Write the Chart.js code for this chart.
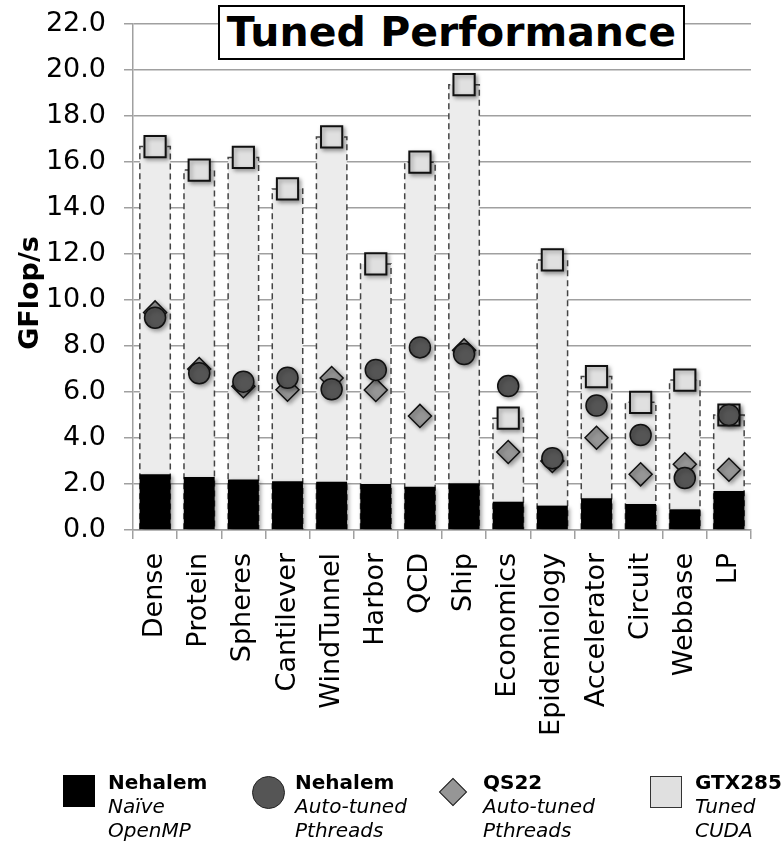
<!DOCTYPE html>
<html>
<head>
<meta charset="utf-8">
<script src="https://cdn.jsdelivr.net/npm/chart.js@4"></script>
<style>
  body { margin: 0; background: #fff; }
  #wrap { position: relative; width: 781px; height: 841px; font-family: 'DejaVu Sans', sans-serif; }
  #wrap canvas { position: absolute; left: 0; top: 0; }
  .title-box {
    position: absolute; left: 218px; top: 5px; width: 467px; height: 55px;
    box-sizing: border-box; border: 2px solid #000; background: #fff;
    font-weight: bold; font-size: 41px; line-height: 51px; text-align: center; color: #000;
  }
  .y-title {
    position: absolute; left: 29px; top: 293px; width: 200px; margin-left: -100px; margin-top: -16px;
    height: 32px; line-height: 32px; text-align: center; transform: rotate(-90deg);
    font-weight: bold; font-size: 27px; color: #000;
  }
  .leg-text { position: absolute; font-size: 20px; line-height: 24px; color: #000; }
  .leg-text b { font-weight: bold; }
  .leg-text i { font-style: italic; }
  .mk { position: absolute; box-sizing: border-box; }
</style>
</head>
<body>
<div id="wrap">
  <canvas id="myChart" width="781" height="841"></canvas>
  <div class="title-box">Tuned Performance</div>
  <div class="y-title">GFlop/s</div>

  <div class="mk" style="left:63px;top:775px;width:32px;height:32px;background:#000;"></div>
  <div class="leg-text" style="left:108px;top:770px;"><b>Nehalem</b><br><i>Naïve</i><br><i>OpenMP</i></div>

  <div class="mk" style="left:252px;top:776px;width:33px;height:33px;border-radius:50%;background:#555;border:1.5px solid #222;"></div>
  <div class="leg-text" style="left:295px;top:770px;"><b>Nehalem</b><br><i>Auto-tuned</i><br><i>Pthreads</i></div>

  <div class="mk" style="left:443px;top:782px;width:20px;height:20px;background:#969696;border:1.5px solid #222;transform:rotate(45deg);"></div>
  <div class="leg-text" style="left:483px;top:770px;"><b>QS22</b><br><i>Auto-tuned</i><br><i>Pthreads</i></div>

  <div class="mk" style="left:650px;top:776px;width:32px;height:32px;background:#e0e0e0;border:1.5px solid #333;"></div>
  <div class="leg-text" style="left:695px;top:770px;"><b>GTX285</b><br><i>Tuned</i><br><i>CUDA</i></div>
</div>

<script>
// matrices along the x axis
const categories = ['Dense', 'Protein', 'Spheres', 'Cantilever', 'WindTunnel', 'Harbor', 'QCD',
    'Ship', 'Economics', 'Epidemiology', 'Accelerator', 'Circuit', 'Webbase', 'LP'];

// GFlop/s
const nehalem_naive = [2.42, 2.30, 2.20, 2.12, 2.10, 2.00, 1.88, 2.03, 1.23, 1.06, 1.38, 1.13, 0.90, 1.70];
const nehalem_tuned = [9.23, 6.81, 6.45, 6.62, 6.12, 6.96, 7.94, 7.65, 6.26, 3.12, 5.41, 4.13, 2.26, 5.00];
const qs22_tuned = [9.46, 7.00, 6.25, 6.10, 6.61, 6.09, 4.96, 7.81, 3.39, 3.00, 4.01, 2.42, 2.86, 2.62];
const gtx285_cuda = [16.67, 15.65, 16.20, 14.83, 17.09, 11.57, 15.99, 19.36, 4.86, 11.74, 6.67, 5.55, 6.52, 5.00];

const yTicks = [0, 2, 4, 6, 8, 10, 12, 14, 16, 18, 20, 22];

const gridGray = '#a0a0a0';
const tickFont = { family: 'DejaVu Sans', size: 27 };

// dashed outline around the light GTX285 bars
const dashedOutline = {
    id: 'dashedOutline',
    afterDatasetDraw(chart, args) {
        if (args.index !== 0) return;
        const ctx = chart.ctx;
        ctx.save();
        ctx.strokeStyle = '#444';
        ctx.lineWidth = 1.5;
        ctx.setLineDash([6, 4]);
        args.meta.data.forEach(bar => {
            const p = bar.getProps(['x', 'y', 'base', 'width'], true);
            const l = p.x - p.width / 2, r = p.x + p.width / 2;
            ctx.beginPath();
            ctx.moveTo(l, p.base);
            ctx.lineTo(l, p.y);
            ctx.lineTo(r, p.y);
            ctx.lineTo(r, p.base);
            ctx.stroke();
        });
        ctx.restore();
    }
};

// soft drop shadow on the black bars and the markers
const softShadow = {
    id: 'softShadow',
    beforeDatasetDraw(chart, args) {
        const ctx = chart.ctx;
        ctx.save();
        if (args.index > 0) {
            ctx.shadowColor = 'rgba(0,0,0,0.35)';
            ctx.shadowBlur = 4;
            ctx.shadowOffsetX = 2;
            ctx.shadowOffsetY = 2;
        }
    },
    afterDatasetDraw(chart) {
        chart.ctx.restore();
    }
};

const ctx = document.getElementById('myChart').getContext('2d');

new Chart(ctx, {
    type: 'bar',
    data: {
        labels: categories,
        datasets: [
            {
                label: 'GTX285 range',
                data: gtx285_cuda,
                backgroundColor: '#ececec',
                borderWidth: 0,
                grouped: false,
                barPercentage: 0.69,
                categoryPercentage: 1,
                order: 4
            },
            {
                label: 'Nehalem Naive OpenMP',
                data: nehalem_naive,
                backgroundColor: '#000',
                borderWidth: 0,
                grouped: false,
                barPercentage: 0.7,
                categoryPercentage: 1,
                order: 3
            },
            {
                type: 'line',
                label: 'GTX285 Tuned CUDA',
                data: gtx285_cuda,
                showLine: false,
                pointStyle: 'rect',
                pointRadius: 15,
                pointBackgroundColor: '#e0e0e0',
                pointBorderColor: '#111',
                pointBorderWidth: 2,
                clip: false,
                order: 2
            },
            {
                type: 'line',
                label: 'QS22 Auto-tuned Pthreads',
                data: qs22_tuned,
                showLine: false,
                pointStyle: 'rectRot',
                pointRadius: 11.5,
                pointBackgroundColor: '#969696',
                pointBorderColor: '#111',
                pointBorderWidth: 1.5,
                clip: false,
                order: 1
            },
            {
                type: 'line',
                label: 'Nehalem Auto-tuned Pthreads',
                data: nehalem_tuned,
                showLine: false,
                pointStyle: 'circle',
                pointRadius: 10.5,
                pointBackgroundColor: '#555',
                pointBorderColor: '#111',
                pointBorderWidth: 1.5,
                clip: false,
                order: 0
            }
        ]
    },
    options: {
        responsive: false,
        animation: false,
        layout: { padding: { top: 24, right: 30, bottom: 100, left: 0 } },
        plugins: {
            legend: { display: false },
            tooltip: { enabled: false }
        },
        scales: {
            x: {
                grid: { drawOnChartArea: false, offset: true, tickLength: 9, color: gridGray, lineWidth: 1.5 },
                border: { color: gridGray, width: 1.5 },
                ticks: { autoSkip: false, minRotation: 90, maxRotation: 90, padding: 14, color: '#000', font: tickFont },
                afterFit: s => { s.height = 211; }
            },
            y: {
                min: 0,
                max: 22,
                afterBuildTicks: s => { s.ticks = yTicks.map(v => ({ value: v })); },
                ticks: { padding: 18, color: '#000', font: tickFont, callback: v => Number(v).toFixed(1) },
                grid: { color: gridGray, lineWidth: 1.5, tickLength: 9 },
                border: { color: gridGray, width: 1.5 },
                afterFit: s => {
                    s.width = 133;
                    s.paddingTop = 16;
                    s.paddingBottom = 16;
                }
            }
        }
    },
    plugins: [dashedOutline, softShadow]
});
</script>
</body>
</html>
